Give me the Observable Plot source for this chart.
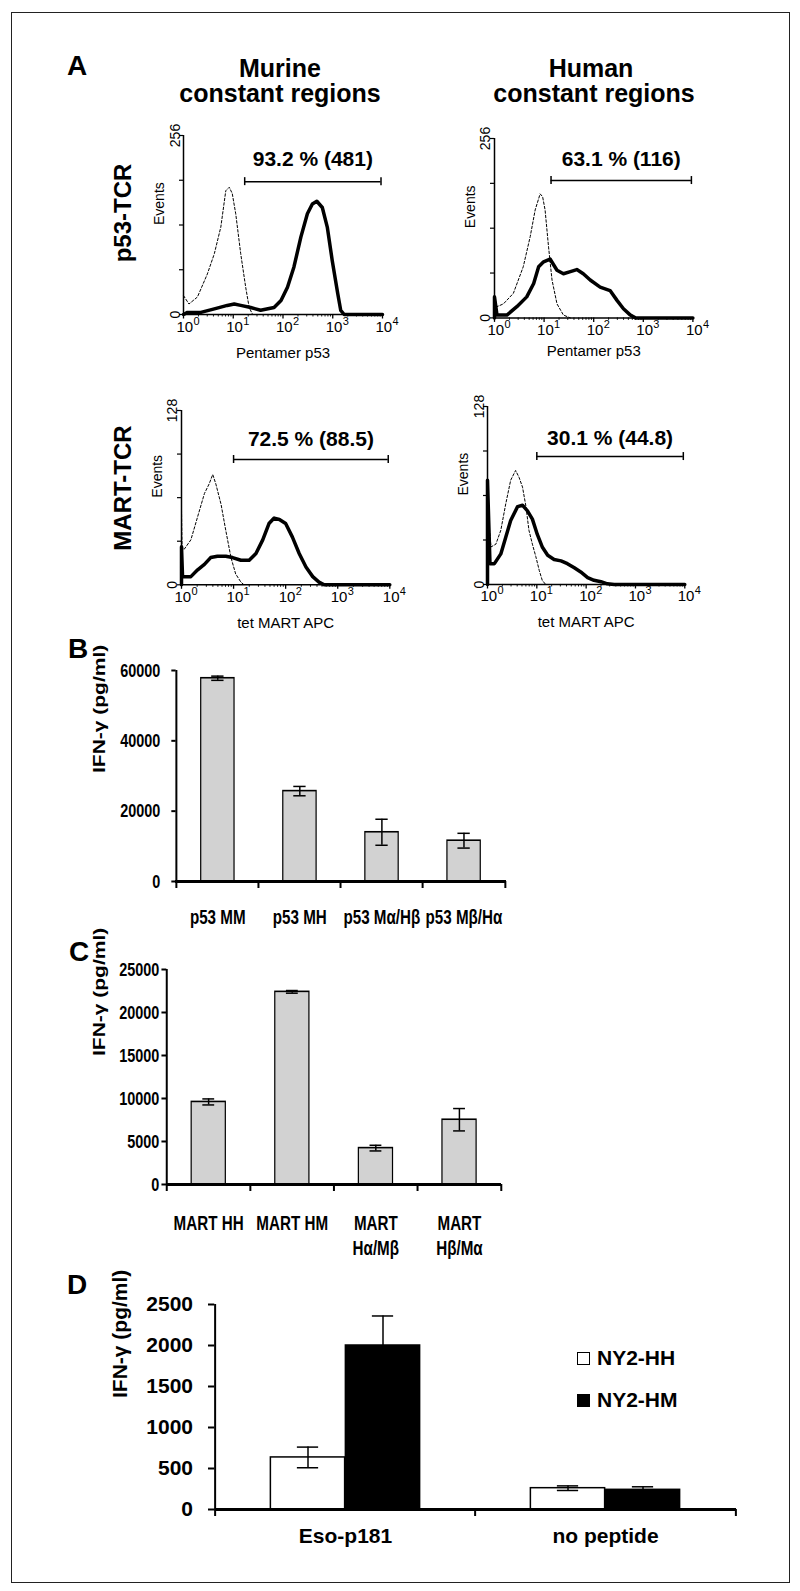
<!DOCTYPE html>
<html><head><meta charset="utf-8">
<script src="https://cdn.jsdelivr.net/npm/d3@7"></script>
<script src="https://cdn.jsdelivr.net/npm/@observablehq/plot@0.6"></script>
<style>
body{margin:0;background:#fff;}
#page{position:relative;width:800px;height:1591px;overflow:hidden;font-family:"Liberation Sans",Arial,Helvetica,sans-serif;color:#000;background:#fff;}
.lbl{position:absolute;white-space:nowrap;line-height:1;font-weight:bold;}
.rot{position:absolute;white-space:nowrap;line-height:1;font-weight:bold;transform:translate(-50%,-50%) rotate(-90deg);}
#border{position:absolute;left:11px;top:12px;width:779px;height:1571px;border:1.5px solid #222;box-sizing:border-box;}
.sw{position:absolute;width:13px;height:13px;border:1.5px solid #000;box-sizing:border-box;}
</style></head>
<body><div id="page"><div id="border"></div></div>
<script>
// ---------- DATA ----------
// Panel A histograms: [log10 fluorescence (decade), events]
const murP53Ctrl = [[0,27],[0.11,15],[0.28,25],[0.48,58],[0.62,87],[0.75,125],[0.85,177],[0.92,182],[0.98,173],[1.05,144],[1.15,87],[1.25,39],[1.32,10],[1.39,0]];
const murP53Tcr  = [[0,0],[0.08,3],[0.35,3],[0.62,8],[0.88,13],[1.02,15],[1.15,13],[1.35,10],[1.55,6],[1.82,10],[1.96,20],[2.09,39],[2.22,68],[2.36,111],[2.49,144],[2.59,158],[2.68,162],[2.79,153],[2.89,125],[2.99,77],[3.10,30],[3.16,6],[3.23,0],[4,0]];
const humP53Ctrl = [[0,30],[0.05,16],[0.18,20],[0.38,35],[0.58,73],[0.72,116],[0.82,154],[0.92,177],[0.97,173],[1.02,154],[1.09,101],[1.16,54],[1.26,20],[1.39,4],[1.53,0]];
const humP53Tcr  = [[0,0],[0,30],[0.05,4],[0.25,4],[0.45,16],[0.65,30],[0.79,49],[0.89,73],[0.99,80],[1.12,84],[1.26,68],[1.39,63],[1.53,66],[1.66,69],[1.79,63],[1.93,54],[2.13,44],[2.33,39],[2.47,25],[2.60,13],[2.74,4],[2.84,0],[4,0]];
const murMartCtrl = [[0,55],[0.01,28],[0.05,26],[0.18,33],[0.31,50],[0.44,67],[0.53,74],[0.60,81],[0.66,74],[0.76,59],[0.85,40],[0.95,20],[1.04,8],[1.14,2],[1.20,0]];
const murMartTcr  = [[0,0],[0,28],[0.02,6],[0.18,6],[0.31,11],[0.44,15],[0.56,20],[0.69,21],[0.85,21],[0.98,20],[1.14,18],[1.30,18],[1.43,23],[1.56,33],[1.68,45],[1.78,49],[1.88,48],[2.00,45],[2.13,35],[2.26,23],[2.39,13],[2.52,6],[2.64,2],[2.74,0],[4,0]];
const humMartCtrl = [[0.01,53],[0.07,27],[0.17,29],[0.27,39],[0.37,58],[0.47,75],[0.57,82],[0.64,77],[0.71,70],[0.78,56],[0.84,39],[0.91,29],[0.98,20],[1.05,10],[1.11,3],[1.18,0]];
const humMartTcr  = [[0,0],[0,75],[0.05,15],[0.14,15],[0.27,22],[0.37,34],[0.47,46],[0.61,56],[0.71,57],[0.81,53],[0.91,47],[1.01,36],[1.11,27],[1.22,21],[1.35,18],[1.49,17],[1.62,15],[1.76,12],[1.89,9],[2.03,5],[2.16,3],[2.30,2],[2.43,0.5],[2.57,0],[4,0]];

const gateStart = [1.23, 1.14, 1.0, 1.0];
const gateEnd = [3.97, 3.97, 3.97, 3.97];
const gateLevel = [190, 196, 92, 92];
const gateLabelLevel = [213, 217, 102, 100];
const gateLabels = ["93.2 % (481)", "63.1 % (116)", "72.5 % (88.5)", "30.1 % (44.8)"];
const histMax = [256, 256, 128, 128];
const histYTicks256 = [0, 64, 128, 192, 256];
const histYTicks128 = [0, 32, 64, 96, 128];
const histDecades = [0, 1, 2, 3, 4];
const histTickBase = "10";
const histTickExp = ["0", "1", "2", "3", "4"];
const histXTitles = ["Pentamer p53", "Pentamer p53", "tet MART APC", "tet MART APC"];

// Panel B
const bCats = ["p53 MM", "p53 MH", "p53 Mα/Hβ", "p53 Mβ/Hα"];
const bVals = [57800, 25700, 14000, 11600];
const bErr  = [600, 1330, 3700, 2100];
const bTicks = [0, 20000, 40000, 60000];
// Panel C
const cCats = ["MART HH", "MART HM", "MART\nHα/Mβ", "MART\nHβ/Mα"];
const cVals = [9600, 22400, 4230, 7530];
const cErr  = [350, 155, 330, 1300];
const cTicks = [0, 5000, 10000, 15000, 20000, 25000];
// Panel D
const dCats = ["Eso-p181", "no peptide"];
const dSeries = ["NY2-HH", "NY2-HM"];
const dHH = [635, 260];
const dHHErr = [126, 28];
const dHM = [2000, 240];
const dHMErr = [360, 37];
const dTicks = [0, 500, 1000, 1500, 2000, 2500];
const yTitle = "IFN-γ (pg/ml)";

// ---------- LAYOUT ----------
const FONT = "'Liberation Sans', Arial, Helvetica, sans-serif";
const page = document.getElementById("page");

function addText(txt, x, baseline, size, anchor) {
  const d = document.createElement("div");
  d.className = "lbl";
  d.textContent = txt;
  d.style.fontSize = size + "px";
  d.style.left = x + "px";
  d.style.top = (baseline - 0.8465 * size) + "px";
  if (anchor === "middle") d.style.transform = "translateX(-50%)";
  page.appendChild(d);
}
function addRot(txt, cx, cy, size) {
  const d = document.createElement("div");
  d.className = "rot";
  d.textContent = txt;
  d.style.fontSize = size + "px";
  d.style.left = cx + "px";
  d.style.top = cy + "px";
  page.appendChild(d);
}
function mount(svg, left, top, k) {
  svg.style.position = "absolute";
  svg.style.left = left + "px";
  svg.style.top = top + "px";
  svg.style.maxWidth = "none";
  if (k && k !== 1) {
    svg.style.transformOrigin = "0 0";
    svg.style.transform = `scaleX(${k})`;
  }
  page.appendChild(svg);
}

const minorTicks = [];
for (let d = 0; d < 4; d++) for (let k = 2; k <= 9; k++) minorTicks.push(d + Math.log10(k));

function hist(idx, ctrl, tcr, f) {
  const mL = 95, mT = 45, mR = 20, mB = 60;
  const ymax = histMax[idx];
  const yticks = ymax === 256 ? histYTicks256 : histYTicks128;
  const gate = {x1: gateStart[idx], x2: gateEnd[idx], y: gateLevel[idx], ty: gateLabelLevel[idx], label: gateLabels[idx]};
  const svg = Plot.plot({
    width: f.x1 - f.x0 + mL + mR,
    height: f.y1 - f.y0 + mT + mB,
    marginLeft: mL, marginRight: mR, marginTop: mT, marginBottom: mB,
    style: {fontFamily: FONT, background: "none", overflow: "visible", color: "#000"},
    x: {domain: [0, 4], axis: null},
    y: {domain: [0, ymax], axis: null},
    marks: [
      Plot.line(ctrl, {x: d => d[0], y: d => d[1], stroke: "#000", strokeWidth: 1, strokeDasharray: "2.5,2"}),
      Plot.line(tcr, {x: d => d[0], y: d => d[1], stroke: "#000", strokeWidth: 3.5, strokeLinejoin: "round"}),
      Plot.ruleX([0], {y1: 0, y2: ymax, stroke: "#000", strokeWidth: 1.5}),
      Plot.ruleY([0], {x1: 0, x2: 4, stroke: "#000", strokeWidth: 1.5}),
      Plot.ruleY(yticks, {x1: 0, x2: 0, insetLeft: -4, stroke: "#000", strokeWidth: 1.2}),
      Plot.ruleX(histDecades, {y1: 0, y2: 0, insetBottom: -4.5, stroke: "#000", strokeWidth: 1.3}),
      Plot.ruleX(minorTicks, {y1: 0, y2: 0, insetBottom: -2.5, stroke: "#000", strokeWidth: 0.9}),
      Plot.text(histDecades, {x: d => d, y: 0, text: () => histTickBase, dx: -7, dy: 17, textAnchor: "start", lineAnchor: "bottom", fontSize: 15}),
      Plot.text(histDecades, {x: d => d, y: 0, text: (d, i) => histTickExp[i], dx: 10, dy: 10, textAnchor: "start", lineAnchor: "bottom", fontSize: 11}),
      Plot.text([yticks[0], yticks[yticks.length - 1]], {x: 0, y: d => d, text: d => String(d), rotate: -90, dx: -4, textAnchor: "middle", lineAnchor: "bottom", fontSize: 14}),
      Plot.text(["Events"], {frameAnchor: "left", rotate: -90, dx: -24, text: d => d, fontSize: 14}),
      Plot.text([histXTitles[idx]], {frameAnchor: "bottom", dy: f.titleDy, text: d => d, fontSize: 15}),
      Plot.ruleY([gate], {x1: "x1", x2: "x2", y: "y", stroke: "#000", strokeWidth: 1.5}),
      Plot.ruleX([gate.x1, gate.x2], {y1: gate.y, y2: gate.y, insetTop: -4, insetBottom: -4, stroke: "#000", strokeWidth: 1.5}),
      Plot.text([gate], {x: d => (d.x1 + d.x2) / 2, y: "ty", text: "label", fontWeight: "bold", fontSize: 21, lineAnchor: "bottom"})
    ]
  });
  mount(svg, f.x0 - mL, f.y0 - mT, 1);
}

// All horizontal sizes below are given in page pixels; k is the horizontal squeeze of the panel.
function barChart(cfg) {
  const {cats, ymax, yticks, x0, x1, y0, y1, k, tickSize, tickPad, tickFont, catFont, labelDy, lineHeight, ifnX, ifnDy, marks} = cfg;
  const u = v => v / k;
  const bw = u(x1 - x0) / cats.length;
  const mT = 40, mB = 80;
  const svg = Plot.plot({
    width: u(800),
    height: y1 - y0 + mT + mB,
    marginLeft: u(x0), marginRight: u(800 - x1), marginTop: mT, marginBottom: mB,
    style: {fontFamily: FONT, background: "none", overflow: "visible", color: "#000"},
    x: {type: "band", domain: cats, padding: 0, axis: null},
    y: {domain: [0, ymax], axis: null},
    marks: [
      ...marks(bw, u),
      Plot.ruleX([cats[0]], {y1: 0, y2: ymax, dx: -bw / 2, stroke: "#000", strokeWidth: u(2)}),
      Plot.ruleY(yticks, {x1: () => cats[0], x2: () => cats[0], insetLeft: -u(tickSize), insetRight: bw, stroke: "#000", strokeWidth: 2}),
      Plot.text(yticks, {y: d => d, frameAnchor: "left", dx: -u(tickSize + tickPad), textAnchor: "end", text: d => String(d), fontSize: tickFont, fontWeight: "bold"}),
      Plot.ruleY([0], {stroke: "#000", strokeWidth: 3}),
      Plot.ruleX(cats, {y1: 0, y2: 0, insetBottom: -7, dx: -bw / 2, stroke: "#000", strokeWidth: u(2)}),
      Plot.ruleX([cats[cats.length - 1]], {y1: 0, y2: 0, insetBottom: -7, dx: bw / 2, stroke: "#000", strokeWidth: u(2)}),
      Plot.text(cats, {x: d => d, text: d => d, frameAnchor: "bottom", lineAnchor: "top", dy: labelDy, fontSize: catFont, fontWeight: "bold", lineHeight}),
      Plot.text([yTitle], {frameAnchor: "left", rotate: -90, dx: u(ifnX - x0), dy: ifnDy, text: d => d, fontSize: 21, fontWeight: "bold"})
    ]
  });
  mount(svg, 0, y0 - mT, k);
}

function grayBars(rows, barW, cap) {
  return (bw, u) => [
    Plot.barY(rows, {x: "cat", y: "v", fill: "#d2d2d2", stroke: "#000", strokeWidth: 1.6, insetLeft: (bw - u(barW)) / 2, insetRight: (bw - u(barW)) / 2}),
    Plot.ruleX(rows, {x: "cat", y1: d => d.v - d.e, y2: d => d.v + d.e, stroke: "#000", strokeWidth: u(1.5)}),
    Plot.tickY(rows, {x: "cat", y: d => d.v + d.e, insetLeft: (bw - u(cap)) / 2, insetRight: (bw - u(cap)) / 2, stroke: "#000", strokeWidth: 1.5}),
    Plot.tickY(rows, {x: "cat", y: d => d.v - d.e, insetLeft: (bw - u(cap)) / 2, insetRight: (bw - u(cap)) / 2, stroke: "#000", strokeWidth: 1.5})
  ];
}

// ---------- TEXT ----------
addText("A", 67, 76, 28);
addText("B", 68, 659, 28);
addText("C", 69, 962, 28);
addText("D", 67, 1295, 28);
addText("Murine", 280, 77, 25, "middle");
addText("constant regions", 280, 102, 25, "middle");
addText("Human", 591, 77, 25, "middle");
addText("constant regions", 594, 102, 25, "middle");
addRot("p53-TCR", 123, 213, 24);
addRot("MART-TCR", 123, 488, 24);

// ---------- PANEL A ----------
hist(0, murP53Ctrl, murP53Tcr, {x0: 182.7, x1: 381.7, y0: 135, y1: 314, titleDy: 43});
hist(1, humP53Ctrl, humP53Tcr, {x0: 494.3, x1: 692.7, y0: 138.3, y1: 317.7, titleDy: 38});
hist(2, murMartCtrl, murMartTcr, {x0: 180.7, x1: 389, y0: 410, y1: 584.3, titleDy: 43});
hist(3, humMartCtrl, humMartTcr, {x0: 486.7, x1: 684, y0: 406, y1: 584, titleDy: 43});

// ---------- PANEL B ----------
const bRows = bCats.map((c, i) => ({cat: c, v: bVals[i], e: bErr[i]}));
barChart({cats: bCats, ymax: 60000, yticks: bTicks, x0: 175, x1: 506, y0: 670, y1: 881, k: 0.76,
  tickSize: 5, tickPad: 10, tickFont: 19, catFont: 20, labelDy: 25, lineHeight: 1.24, ifnX: 100, ifnDy: -3,
  marks: grayBars(bRows, 34, 13)});

// ---------- PANEL C ----------
const cRows = cCats.map((c, i) => ({cat: c, v: cVals[i], e: cErr[i]}));
barChart({cats: cCats, ymax: 25000, yticks: cTicks, x0: 166, x1: 501, y0: 969, y1: 1184, k: 0.76,
  tickSize: 5, tickPad: 2, tickFont: 19, catFont: 20, labelDy: 27, lineHeight: 1.28, ifnX: 100, ifnDy: -21,
  marks: grayBars(cRows, 34.3, 12)});

// ---------- PANEL D ----------
const dRowsHH = dCats.map((c, i) => ({cat: c, v: dHH[i], e: dHHErr[i]}));
const dRowsHM = dCats.map((c, i) => ({cat: c, v: dHM[i], e: dHMErr[i]}));
const dColors = ["#fff", "#000"];
barChart({cats: dCats, ymax: 2500, yticks: dTicks, x0: 214.5, x1: 736, y0: 1304, y1: 1509, k: 1,
  tickSize: 7, tickPad: 15, tickFont: 21, catFont: 21, labelDy: 16, lineHeight: 1.2, ifnX: 119.5, ifnDy: -9,
  marks: bw => {
    const bar = 75, gap = (bw - 2 * bar) / 2, cap = 22;
    const eb = (rows, dx) => [
      Plot.ruleX(rows, {x: "cat", y1: d => d.v - d.e, y2: d => d.v + d.e, dx, stroke: "#000", strokeWidth: 1.5}),
      Plot.tickY(rows, {x: "cat", y: d => d.v + d.e, insetLeft: bw / 2 + dx - cap / 2, insetRight: bw / 2 - dx - cap / 2, stroke: "#000", strokeWidth: 1.5}),
      Plot.tickY(rows, {x: "cat", y: d => d.v - d.e, insetLeft: bw / 2 + dx - cap / 2, insetRight: bw / 2 - dx - cap / 2, stroke: "#000", strokeWidth: 1.5})
    ];
    return [
      Plot.barY(dRowsHH, {x: "cat", y: "v", fill: dColors[0], stroke: "#000", strokeWidth: 1.5, insetLeft: gap, insetRight: gap + bar}),
      Plot.barY(dRowsHM, {x: "cat", y: "v", fill: dColors[1], stroke: "#000", strokeWidth: 1.5, insetLeft: gap + bar, insetRight: gap}),
      ...eb(dRowsHH, -bar / 2),
      ...eb(dRowsHM, bar / 2)
    ];
  }});

// legend
dSeries.forEach((s, i) => {
  const sw = document.createElement("div");
  sw.className = "sw";
  sw.style.left = "577px";
  sw.style.top = (1352 + i * 42) + "px";
  sw.style.background = dColors[i];
  page.appendChild(sw);
  addText(s, 597, 1365 + i * 42, 21);
});
</script></body></html>
